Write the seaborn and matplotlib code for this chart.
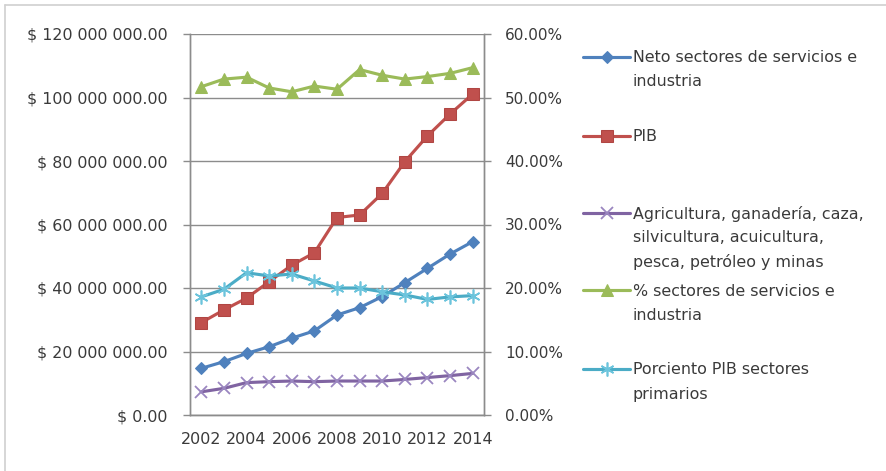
import numpy as np
import pandas as pd
import matplotlib
matplotlib.use("Agg")
import matplotlib.pyplot as plt
import seaborn as sns
from matplotlib.lines import Line2D
from matplotlib.ticker import FuncFormatter

# ---------------- data ----------------
years = list(range(2002, 2015))
neto = [14.7e6, 16.8e6, 19.4e6, 21.5e6, 24.2e6, 26.5e6, 31.5e6, 33.8e6, 37.3e6,
        41.7e6, 46.2e6, 50.7e6, 54.6e6]
pib = [29.1e6, 33.1e6, 36.8e6, 42.0e6, 47.2e6, 51.1e6, 62.2e6, 63.0e6, 69.8e6,
       79.8e6, 87.9e6, 94.8e6, 101.1e6]
agri = [7.3e6, 8.4e6, 10.2e6, 10.5e6, 10.7e6, 10.5e6, 10.7e6, 10.7e6, 10.7e6,
        11.2e6, 11.8e6, 12.4e6, 13.1e6]
pct_serv = [51.7, 52.9, 53.2, 51.5, 50.9, 51.8, 51.3, 54.4, 53.5, 52.9, 53.3, 53.8, 54.7]
pct_prim = [18.6, 19.8, 22.4, 21.9, 22.2, 21.1, 20.0, 20.0, 19.4, 18.9, 18.2, 18.6, 18.8]

labels = ["Neto sectores de servicios e\nindustria",
          "PIB",
          "Agricultura, ganadería, caza,\nsilvicultura, acuicultura,\npesca, petróleo y minas",
          "% sectores de servicios e\nindustria",
          "Porciento PIB sectores\nprimarios"]
xtick_years = [2002, 2004, 2006, 2008, 2010, 2012, 2014]

# ---------------- style ----------------
sns.set_style("white")
plt.rcParams["font.family"] = ["DejaVu Sans"]

W, H = 887, 471
fig = plt.figure(figsize=(W / 100, H / 100), dpi=100)
fig.subplots_adjust(left=190 / W, right=484 / W, bottom=1 - 415 / H, top=1 - 34 / H)
ax = fig.add_subplot(111)
ax2 = ax.twinx()

gray = "#8c8c8c"
txt = "#3a3a3a"
c_blue, c_red, c_purple, c_green, c_cyan = "#4F81BD", "#C0504D", "#8064A2", "#9BBB59", "#4BACC6"
lw = 2.25

sns.lineplot(x=years, y=neto, ax=ax, color=c_blue, lw=lw, marker="D", markersize=6.5,
             markeredgecolor=c_blue)
sns.lineplot(x=years, y=pib, ax=ax, color=c_red, lw=lw, marker="s", markersize=8.5,
             markeredgecolor="#b04643")
sns.lineplot(x=years, y=agri, ax=ax, color=c_purple, lw=lw, marker="x", markersize=8,
             markeredgewidth=1.3, markeredgecolor="#9a86c0")
sns.lineplot(x=years, y=pct_serv, ax=ax2, color=c_green, lw=lw, marker="^", markersize=8,
             markeredgecolor=c_green)
sns.lineplot(x=years, y=pct_prim, ax=ax2, color=c_cyan, lw=lw, marker=(6, 2, 0), markersize=10,
             markeredgewidth=1.2, markeredgecolor="#6cc4dc")

handles = [ax.lines[0], ax.lines[1], ax.lines[2], ax2.lines[0], ax2.lines[1]]

# axes limits and ticks
ax.set_xlim(2001.5, 2014.5)
ax.set_ylim(0, 120e6)
ax2.set_ylim(0, 60)
ax.set_xticks(xtick_years)
ax.set_xticklabels([str(y) for y in xtick_years])
ax.set_xticks(np.arange(2001.5, 2015, 1), minor=True)
ax.tick_params(axis="x", which="major", length=0, pad=12, labelsize=11.5, labelcolor=txt)
ax.tick_params(axis="x", which="minor", length=5, width=1, color=gray, direction="out")
ax.set_yticks(np.arange(0, 120e6 + 1, 20e6))
ax.yaxis.set_major_formatter(FuncFormatter(lambda v, p: "$ " + f"{v:,.2f}".replace(",", " ")))
ax.tick_params(axis="y", length=5, width=1, color=gray, pad=11, labelsize=11.4, labelcolor=txt,
               direction="out")
ax2.set_yticks(np.arange(0, 61, 10))
ax2.yaxis.set_major_formatter(FuncFormatter(lambda v, p: f"{v:.2f}%"))
ax2.tick_params(axis="y", length=5, width=1, color=gray, pad=10, labelsize=11, labelcolor=txt,
                direction="out")
ax.set_xlabel("")
ax.set_ylabel("")
ax2.set_ylabel("")

ax.yaxis.grid(True, color=gray, lw=1)
ax.set_axisbelow(True)
for a in (ax, ax2):
    a.spines["top"].set_visible(False)
    for s in ("left", "right", "bottom"):
        a.spines[s].set_color(gray)
        a.spines[s].set_linewidth(1)
    a.legend_ = None

# legend: one entry per block, placed like the Excel legend
leg_y = [58, 137, 214, 291, 370]
line_gap = 24
leg_fs = 11.4
legs = []
for h, lab, yc in zip(handles, labels, leg_y):
    first = lab.split("\n")[0]
    leg = fig.legend(handles=[h], labels=[first], loc="center left",
                     bbox_to_anchor=(583 / W, 1 - yc / H), bbox_transform=fig.transFigure,
                     frameon=False, borderpad=0, borderaxespad=0, handlelength=3.0,
                     handletextpad=0.15, fontsize=leg_fs, labelcolor=txt, numpoints=1)
    legs.append(leg)

fig.canvas.draw()
renderer = fig.canvas.get_renderer()
for leg, lab in zip(legs, labels):
    parts = lab.split("\n")
    t = leg.get_texts()[0]
    bb = t.get_window_extent(renderer)
    yc = (bb.y0 + bb.y1) / 2
    for k, p in enumerate(parts[1:], start=1):
        fig.text(bb.x0 / W, (yc - k * line_gap) / H, p, ha="left", va="center",
                 fontsize=leg_fs, color=txt)

# outer chart frame (left and top edges visible in the reference)
fig.add_artist(Line2D([5 / W, 5 / W], [0, 1 - 5 / H], transform=fig.transFigure,
                      color="#d0d0d0", lw=1.2))
fig.add_artist(Line2D([5 / W, 1], [1 - 5 / H, 1 - 5 / H], transform=fig.transFigure,
                      color="#d0d0d0", lw=1.2))

fig.savefig("out.png", dpi=100)
